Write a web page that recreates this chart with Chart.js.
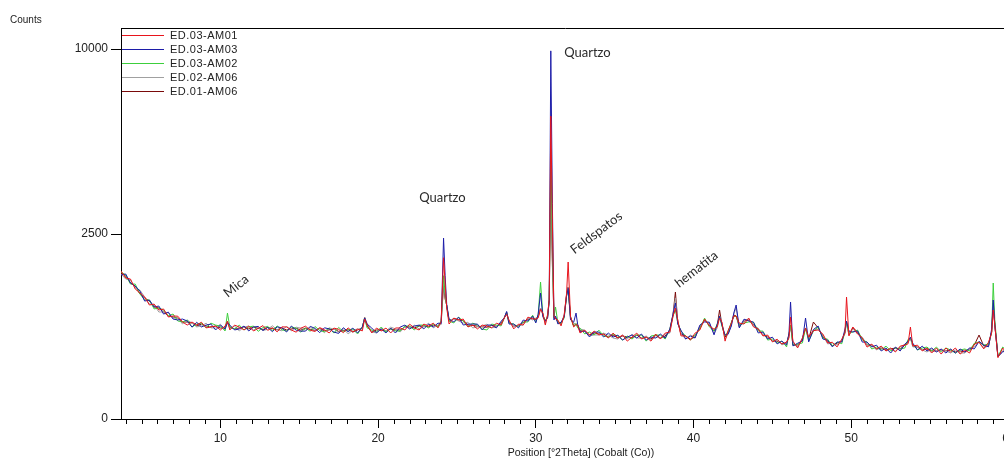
<!DOCTYPE html>
<html lang="en">
<head>
<meta charset="UTF-8">
<title>Difratograma</title>
<script src="https://cdn.jsdelivr.net/npm/chart.js"></script>
<style>
  html, body { margin: 0; padding: 0; background: #fff; overflow: hidden; }
  canvas { display: block; }
</style>
</head>
<body>
<canvas id="xrd" width="1021" height="467"></canvas>
<script>
// position in °2Theta (shared by every pattern)
const positions = [
  3.7, 4.0, 4.3, 4.6, 4.9, 5.2, 5.5, 5.8, 6.1, 6.4,
  6.7, 7.0, 7.3, 7.6, 7.9, 8.2, 8.5, 8.8, 9.1, 9.4,
  9.7, 10.0, 10.3, 10.45, 10.6, 10.9, 11.2, 11.5, 11.8, 12.1,
  12.4, 12.7, 13.0, 13.3, 13.6, 13.9, 14.2, 14.5, 14.8, 15.1,
  15.4, 15.7, 16.0, 16.3, 16.6, 16.9, 17.2, 17.5, 17.8, 18.1,
  18.4, 18.7, 19.0, 19.15, 19.3, 19.6, 19.9, 20.2, 20.5, 20.8,
  21.1, 21.4, 21.7, 22.0, 22.3, 22.6, 22.9, 23.2, 23.5, 23.8,
  24.0, 24.15, 24.25, 24.35, 24.5, 24.8, 25.1, 25.4, 25.7, 26.0,
  26.3, 26.6, 26.9, 27.2, 27.5, 27.8, 28.0, 28.15, 28.3, 28.6,
  28.9, 29.2, 29.5, 29.8, 30.0, 30.15, 30.3, 30.45, 30.6, 30.75,
  30.85, 30.95, 31.05, 31.15, 31.25, 31.4, 31.6, 31.8, 31.95, 32.05,
  32.2, 32.4, 32.55, 32.65, 32.8, 33.1, 33.4, 33.7, 34.0, 34.3,
  34.6, 34.9, 35.2, 35.5, 35.8, 36.1, 36.4, 36.7, 37.0, 37.3,
  37.6, 37.9, 38.2, 38.5, 38.7, 38.85, 39.0, 39.2, 39.5, 39.8,
  40.1, 40.4, 40.7, 41.0, 41.3, 41.5, 41.65, 41.8, 42.0, 42.2,
  42.4, 42.55, 42.7, 42.9, 43.2, 43.5, 43.8, 44.1, 44.4, 44.7,
  45.0, 45.3, 45.6, 45.9, 46.05, 46.15, 46.3, 46.6, 46.9, 47.1,
  47.3, 47.6, 47.9, 48.2, 48.5, 48.8, 49.1, 49.4, 49.6, 49.7,
  49.85, 50.1, 50.4, 50.7, 51.0, 51.3, 51.6, 51.9, 52.2, 52.5,
  52.8, 53.1, 53.4, 53.6, 53.75, 53.9, 54.2, 54.5, 54.8, 55.1,
  55.4, 55.7, 56.0, 56.3, 56.6, 56.9, 57.2, 57.5, 57.8, 58.1,
  58.4, 58.7, 58.9, 59.0, 59.1, 59.3, 59.6, 59.9, 60.2, 60.5
];

// counts
const ed03am01 = [
  1599, 1452, 1431, 1235, 1160, 1088, 949, 965, 868, 884,
  760, 775, 772, 688, 645, 687, 645, 684, 606, 619,
  631, 579, 631, 700, 579, 644, 618, 579, 631, 566,
  600, 637, 574, 609, 555, 620, 618, 579, 551, 603,
  629, 575, 560, 610, 582, 541, 604, 587, 544, 607,
  553, 591, 567, 730, 645, 541, 604, 566, 604, 541,
  605, 605, 579, 657, 605, 579, 658, 632, 671, 606,
  694, 1900, 1350, 900, 659, 744, 716, 729, 619, 645,
  593, 644, 631, 606, 671, 646, 745, 800, 715, 593,
  658, 645, 758, 731, 730, 746, 880, 819, 645, 790,
  1050, 6700, 2900, 773, 731, 715, 633, 789, 1150, 1800,
  771, 619, 650, 645, 541, 577, 516, 564, 516, 527,
  479, 539, 479, 515, 443, 491, 539, 467, 491, 443,
  527, 467, 539, 553, 770, 900, 715, 505, 503, 455,
  539, 579, 730, 633, 589, 619, 745, 685, 443, 577,
  672, 775, 775, 671, 659, 744, 620, 592, 504, 515,
  434, 465, 411, 432, 479, 760, 443, 369, 478, 605,
  489, 570, 579, 527, 422, 430, 380, 466, 541, 1087,
  504, 618, 528, 479, 378, 410, 358, 388, 338, 368,
  328, 388, 399, 413, 618, 390, 398, 338, 368, 318,
  368, 308, 368, 328, 368, 308, 348, 318, 409, 430,
  359, 430, 541, 868, 640, 275, 368, 308, 368, 338
];
const ed03am03 = [
  1515, 1536, 1351, 1292, 1196, 1016, 1034, 917, 932, 804,
  835, 730, 716, 730, 701, 617, 684, 619, 645, 658,
  579, 644, 592, 680, 644, 579, 592, 631, 566, 618,
  626, 572, 613, 557, 620, 607, 553, 631, 577, 564,
  564, 627, 599, 545, 608, 593, 552, 535, 609, 555,
  604, 541, 618, 745, 658, 604, 541, 592, 541, 604,
  540, 618, 644, 592, 631, 644, 593, 658, 619, 671,
  666, 2390, 1500, 960, 729, 688, 758, 645, 658, 658,
  658, 579, 644, 645, 606, 698, 745, 845, 659, 658,
  606, 715, 702, 773, 674, 804, 1160, 761, 701, 746,
  1020, 9900, 3400, 717, 773, 659, 685, 761, 1100, 1250,
  719, 684, 820, 658, 554, 565, 492, 552, 552, 491,
  539, 491, 515, 455, 491, 515, 479, 527, 455, 491,
  479, 527, 479, 592, 805, 983, 659, 576, 467, 503,
  479, 644, 688, 685, 517, 658, 770, 646, 515, 529,
  633, 820, 949, 606, 728, 702, 685, 541, 552, 467,
  489, 412, 443, 400, 539, 1000, 390, 419, 445, 745,
  434, 585, 631, 467, 454, 380, 432, 433, 590, 700,
  564, 553, 566, 432, 433, 379, 398, 338, 368, 318,
  378, 338, 409, 443, 490, 420, 348, 388, 338, 368,
  328, 358, 318, 358, 318, 358, 328, 368, 359, 440,
  399, 380, 591, 1034, 655, 288, 328, 348, 318, 368
];
const ed03am02 = [
  1578, 1515, 1331, 1330, 1142, 1034, 1034, 885, 900, 868,
  775, 805, 702, 688, 715, 617, 658, 671, 606, 671,
  644, 631, 566, 820, 618, 592, 644, 579, 618, 631,
  561, 611, 626, 570, 633, 581, 566, 618, 603, 551,
  603, 562, 625, 571, 556, 606, 539, 613, 557, 581,
  591, 528, 618, 740, 606, 579, 553, 618, 553, 592,
  566, 566, 631, 631, 579, 644, 645, 606, 658, 619,
  708, 1500, 1150, 930, 701, 674, 758, 701, 619, 671,
  645, 592, 579, 658, 645, 633, 745, 820, 673, 658,
  619, 687, 688, 787, 688, 790, 1371, 775, 715, 760,
  1030, 5300, 2200, 759, 916, 673, 672, 747, 1110, 1240,
  758, 632, 665, 606, 604, 529, 552, 516, 576, 503,
  491, 527, 503, 455, 503, 467, 515, 515, 443, 503,
  515, 515, 467, 592, 780, 868, 673, 564, 503, 455,
  515, 592, 744, 620, 565, 658, 760, 633, 503, 565,
  685, 762, 775, 645, 673, 688, 685, 566, 564, 455,
  467, 422, 443, 380, 527, 645, 400, 409, 423, 605,
  445, 565, 618, 479, 465, 390, 432, 414, 565, 687,
  540, 553, 578, 455, 433, 358, 378, 348, 388, 338,
  368, 358, 369, 463, 479, 410, 348, 368, 378, 338,
  378, 328, 368, 348, 318, 348, 358, 338, 419, 433,
  399, 410, 553, 1351, 720, 286, 378, 338, 368, 368
];
const ed02am06 = [
  1536, 1431, 1411, 1254, 1214, 1088, 966, 949, 836, 836,
  820, 745, 744, 660, 715, 673, 619, 632, 671, 606,
  605, 657, 579, 690, 592, 631, 566, 618, 631, 579,
  613, 572, 587, 635, 581, 568, 631, 566, 616, 603,
  577, 614, 573, 597, 543, 606, 591, 548, 596, 529,
  579, 591, 592, 752, 670, 553, 541, 604, 566, 617,
  592, 553, 618, 605, 644, 592, 619, 671, 606, 645,
  652, 1400, 1100, 940, 715, 730, 702, 673, 684, 606,
  619, 631, 657, 606, 619, 686, 750, 830, 701, 619,
  645, 645, 744, 716, 744, 760, 900, 805, 659, 804,
  1040, 4500, 1900, 731, 759, 701, 646, 803, 1130, 1273,
  732, 671, 659, 619, 592, 577, 504, 516, 516, 539,
  515, 479, 467, 515, 467, 527, 479, 479, 503, 455,
  491, 479, 527, 540, 795, 1070, 701, 528, 467, 515,
  491, 631, 702, 672, 529, 606, 775, 672, 467, 529,
  646, 805, 900, 619, 715, 730, 633, 604, 516, 503,
  445, 454, 401, 422, 503, 645, 432, 379, 478, 605,
  467, 575, 592, 515, 412, 420, 401, 455, 529, 687,
  516, 592, 528, 490, 400, 400, 348, 378, 338, 358,
  338, 378, 409, 423, 479, 380, 378, 348, 328, 358,
  338, 348, 338, 318, 348, 318, 318, 358, 379, 433,
  369, 390, 565, 949, 640, 280, 338, 338, 338, 358
];
const ed01am06 = [
  1557, 1494, 1351, 1292, 1142, 1070, 1017, 917, 900, 836,
  775, 760, 744, 688, 687, 673, 632, 658, 632, 619,
  631, 605, 605, 690, 618, 592, 605, 618, 592, 618,
  600, 585, 613, 596, 581, 607, 579, 592, 603, 577,
  603, 588, 573, 597, 569, 580, 591, 561, 570, 581,
  553, 579, 605, 755, 632, 553, 579, 579, 566, 592,
  579, 579, 618, 618, 605, 631, 632, 619, 645, 632,
  690, 1300, 1050, 945, 700, 735, 720, 705, 645, 640,
  630, 620, 615, 640, 628, 665, 748, 836, 690, 630,
  640, 680, 725, 745, 722, 770, 900, 790, 690, 775,
  1036, 4000, 1750, 745, 745, 690, 660, 775, 1125, 1273,
  758, 632, 659, 645, 568, 565, 516, 540, 528, 527,
  491, 515, 479, 503, 491, 479, 515, 479, 491, 467,
  515, 479, 503, 578, 800, 1178, 687, 528, 503, 467,
  491, 618, 716, 646, 565, 632, 868, 646, 491, 541,
  672, 790, 775, 619, 700, 716, 646, 591, 516, 491,
  445, 443, 411, 421, 515, 645, 400, 399, 456, 605,
  467, 687, 605, 491, 443, 390, 421, 444, 553, 687,
  516, 610, 553, 478, 400, 399, 358, 368, 348, 358,
  368, 358, 399, 433, 479, 390, 378, 348, 358, 338,
  338, 348, 338, 348, 328, 338, 328, 358, 399, 515,
  389, 390, 553, 983, 645, 281, 338, 338, 348, 338
];

const seriesNames = ['ED.03-AM01', 'ED.03-AM03', 'ED.03-AM02', 'ED.02-AM06', 'ED.01-AM06'];
const seriesValues = [ed03am01, ed03am03, ed03am02, ed02am06, ed01am06];
const seriesColors = ['#e8141c', '#1c1ca8', '#3ccf3c', '#a0a0a0', '#7a0a0a'];

const xTicks = [10, 20, 30, 40, 50, 60];
const yTicks = [0, 2500, 10000];

// phase labels: text, °2Theta, counts, rotation (deg)
const phaseLabels = [
  ['Mica', 11.0, 1290, -38],
  ['Quartzo', 24.08, 3570, 0],
  ['Quartzo', 33.27, 9785, 0],
  ['Feldspatos', 33.84, 2530, -37],
  ['hematita', 40.18, 1640, -38]
];

// square-root intensity axis, as in HighScore
class SqrtScale extends Chart.LinearScale {
  getPixelForValue(value) {
    const s = Math.sqrt(Math.max(this.min, 0)), e = Math.sqrt(this.max);
    return this.getPixelForDecimal((Math.sqrt(Math.max(value, 0)) - s) / (e - s));
  }
  getValueForPixel(pixel) {
    const s = Math.sqrt(Math.max(this.min, 0)), e = Math.sqrt(this.max);
    const v = s + this.getDecimalForPixel(pixel) * (e - s);
    return v * v;
  }
}
SqrtScale.id = 'sqrt';
SqrtScale.defaults = Chart.LinearScale.defaults;
Chart.register(SqrtScale);

const FONT = '"Liberation Sans", Arial, sans-serif';

const decorations = {
  id: 'decorations',
  afterDraw(chart) {
    const ctx = chart.ctx;
    const area = chart.chartArea;
    const xs = chart.scales.x, ys = chart.scales.y;
    ctx.save();
    ctx.strokeStyle = '#000';
    ctx.lineWidth = 1;

    // frame top and right
    ctx.beginPath();
    ctx.moveTo(Math.round(area.left) + 0.5, Math.round(area.top) + 0.5);
    ctx.lineTo(Math.round(area.right) + 0.5, Math.round(area.top) + 0.5);
    ctx.lineTo(Math.round(area.right) + 0.5, Math.round(area.bottom) + 0.5);
    ctx.stroke();

    // minor ticks every degree
    ctx.beginPath();
    for (let t = 4; t <= 60; t++) {
      if (t % 10 === 0) continue;
      const px = Math.round(xs.getPixelForValue(t)) + 0.5;
      ctx.moveTo(px, area.bottom);
      ctx.lineTo(px, area.bottom + 5);
    }
    ctx.stroke();

    // legend
    ctx.font = '11px ' + FONT;
    ctx.letterSpacing = '0.5px';
    ctx.textBaseline = 'middle';
    seriesNames.forEach((name, i) => {
      const y = Math.round(area.top) + 7 + i * 14;
      ctx.fillStyle = seriesColors[i];
      ctx.fillRect(Math.round(area.left) + 1, y, 42, 1);
      ctx.fillStyle = '#222';
      ctx.fillText(name, area.left + 49, y + 0.5);
    });

    // axis captions
    ctx.letterSpacing = '0px';
    ctx.fillStyle = '#222';
    ctx.font = '10px ' + FONT;
    ctx.textAlign = 'left';
    ctx.fillText('Counts', 10, 20);
    ctx.font = '10.5px ' + FONT;
    ctx.textAlign = 'center';
    ctx.fillText('Position [°2Theta] (Cobalt (Co))', 581, 453);

    // phase labels
    ctx.font = '13px Lato, "Open Sans", sans-serif';
    ctx.fillStyle = '#2a2a2a';
    phaseLabels.forEach(([text, th, c, rot]) => {
      ctx.save();
      ctx.translate(xs.getPixelForValue(th), ys.getPixelForValue(c));
      ctx.rotate(rot * Math.PI / 180);
      ctx.fillText(text, 0, 0);
      ctx.restore();
    });
    ctx.restore();
  }
};

new Chart(document.getElementById('xrd'), {
  type: 'line',
  data: {
    datasets: seriesNames.map((name, i) => ({
      label: name,
      data: positions.map((p, j) => ({ x: p, y: seriesValues[i][j] })),
      borderColor: seriesColors[i],
      borderWidth: 1,
      pointRadius: 0,
      tension: 0,
      fill: false
    }))
  },
  options: {
    responsive: false,
    animation: false,
    devicePixelRatio: 1,
    layout: { padding: { top: 28, right: 12, left: 0, bottom: 0 } },
    plugins: { legend: { display: false }, tooltip: { enabled: false } },
    scales: {
      x: {
        type: 'linear',
        position: 'bottom',
        min: 3.7,
        max: 60,
        afterBuildTicks: s => { s.ticks = xTicks.map(v => ({ value: v })); },
        afterFit: s => { s.height = 48; },
        ticks: {
          autoSkip: false, maxRotation: 0, padding: 3, color: '#222',
          font: { family: FONT, size: 12 },
          callback: v => String(v)
        },
        grid: { drawOnChartArea: false, tickLength: 9, color: '#000' },
        border: { color: '#000', width: 1 }
      },
      y: {
        type: 'sqrt',
        min: 0,
        max: 11168,
        afterBuildTicks: s => { s.ticks = yTicks.map(v => ({ value: v })); },
        afterFit: s => { s.width = 121; },
        ticks: {
          autoSkip: false, padding: 3, color: '#222',
          font: { family: FONT, size: 12 },
          callback: v => String(v)
        },
        grid: { drawOnChartArea: false, tickLength: 10, color: '#000' },
        border: { color: '#000', width: 1 }
      }
    }
  },
  plugins: [decorations]
});
</script>
</body>
</html>
